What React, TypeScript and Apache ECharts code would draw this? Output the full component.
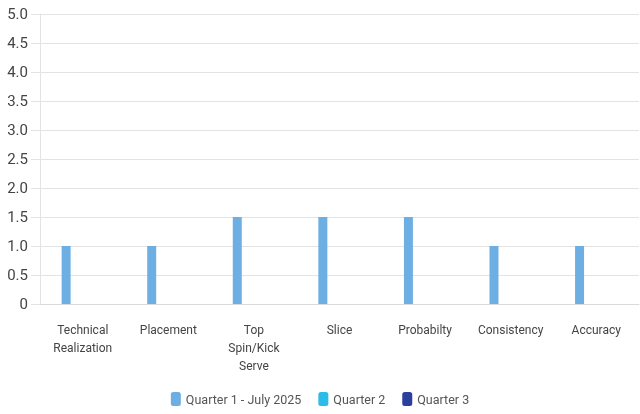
import React, { useEffect, useRef } from "react";
import * as echarts from "echarts";

const categories = [
  "Technical\nRealization",
  "Placement",
  "Top\nSpin/Kick\nServe",
  "Slice",
  "Probabilty",
  "Consistency",
  "Accuracy",
];
const seriesNames = ["Quarter 1 - July 2025", "Quarter 2", "Quarter 3"];
const q1Values = [1, 1, 1.5, 1.5, 1.5, 1, 1];
const q2Values = [null, null, null, null, null, null, null];
const q3Values = [null, null, null, null, null, null, null];
const colors = ["#6EAFE3", "#2BBCE8", "#2B3F9E"];

export default function App() {
  const ref = useRef<HTMLDivElement>(null);
  useEffect(() => {
    if (!ref.current) return;
    const chart = echarts.init(ref.current, undefined, { renderer: "svg" });
    const font = "Roboto, Arial, sans-serif";
    chart.setOption({
      animation: false,
      textStyle: { fontFamily: font },
      grid: { left: 40, right: 1, top: 14, bottom: 110 },
      legend: {
        bottom: 3,
        left: "center",
        icon: "roundRect",
        itemWidth: 10,
        itemHeight: 14,
        itemGap: 17,
        textStyle: { color: "#555", fontSize: 12.5, fontFamily: font },
        data: seriesNames,
      },
      xAxis: {
        type: "category",
        data: categories,
        axisLine: { lineStyle: { color: "#d9d9d9" } },
        axisTick: { show: false },
        axisLabel: {
          interval: 0,
          color: "#444",
          fontSize: 12,
          lineHeight: 18,
          margin: 17,
          fontFamily: font,
        },
      },
      yAxis: {
        type: "value",
        min: 0,
        max: 5,
        interval: 0.5,
        axisLine: { show: true, lineStyle: { color: "#e3e3e3" } },
        axisTick: { show: true, length: 9, lineStyle: { color: "#e3e3e3" } },
        splitLine: { lineStyle: { color: "#e3e3e3" } },
        axisLabel: {
          color: "#444",
          fontSize: 15,
          margin: 12,
          fontFamily: font,
          formatter: (v: number) => (v === 0 ? "0" : v.toFixed(1)),
        },
      },
      series: [
        { name: seriesNames[0], type: "bar", data: q1Values, barWidth: 9, barGap: "85%", itemStyle: { color: colors[0] } },
        { name: seriesNames[1], type: "bar", data: q2Values, barWidth: 9, barGap: "85%", itemStyle: { color: colors[1] } },
        { name: seriesNames[2], type: "bar", data: q3Values, barWidth: 9, barGap: "85%", itemStyle: { color: colors[2] } },
      ],
    });
    return () => chart.dispose();
  }, []);
  return <div ref={ref} style={{ position: "fixed", left: 0, top: 0, width: 640, height: 414 }} />;
}
